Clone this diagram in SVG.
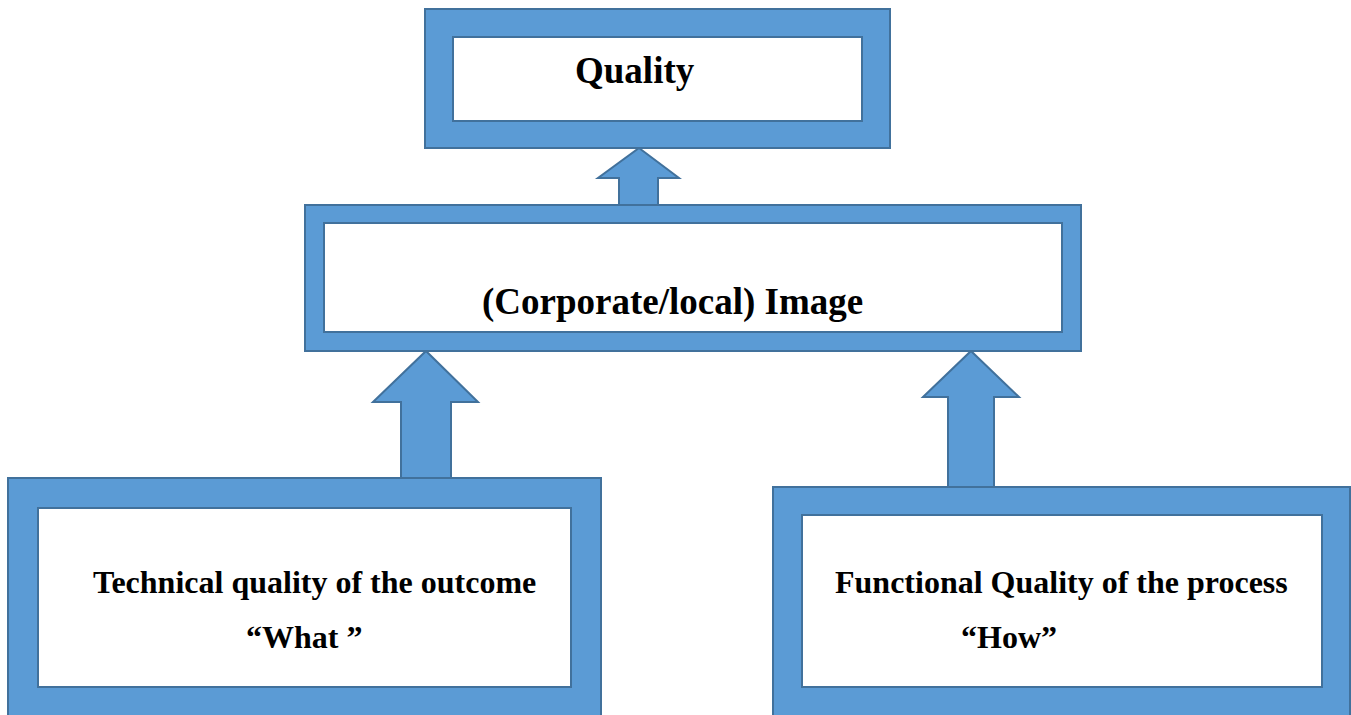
<svg xmlns="http://www.w3.org/2000/svg" width="1351" height="715" viewBox="0 0 1351 715">
  <style>
    .frame { fill: #5B9BD5; stroke: #41719C; stroke-width: 2; }
    .inner { fill: #FFFFFF; stroke: #41719C; stroke-width: 2; }
    .arrow { fill: #5B9BD5; stroke: #41719C; stroke-width: 2; stroke-linejoin: miter; }
    .lbl { font-family: "Liberation Serif", "Times New Roman", serif; font-weight: bold; fill: #000000; }
    .big { font-size: 37px; }
    .small { font-size: 32px; }
  </style>
  <rect width="1351" height="715" fill="#FFFFFF"/>

  <!-- block arrows between levels -->
  <g id="connectors">
    <polygon class="arrow" points="639,148 679,178 658,178 658,205 619,205 619,178 598,178"/>
    <polygon class="arrow" points="426,351 478,402 451,402 451,478 401,478 401,402 373,402"/>
    <polygon class="arrow" points="971,351 1019,397 994,397 994,487 948,487 948,397 923,397"/>
  </g>

  <g id="node-quality">
    <rect class="frame" x="425" y="9" width="465" height="139"/>
    <rect class="inner" x="453" y="37" width="409" height="84"/>
    <text class="lbl big" x="575" y="83">Quality</text>
  </g>

  <g id="node-image">
    <rect class="frame" x="305" y="205" width="776" height="146"/>
    <rect class="inner" x="324" y="223" width="738" height="109"/>
    <text class="lbl big" x="482" y="314">(Corporate/local) Image</text>
  </g>

  <g id="node-technical">
    <rect class="frame" x="8" y="478" width="593" height="245"/>
    <rect class="inner" x="38" y="508" width="533" height="179"/>
    <text class="lbl small" x="93" y="593">Technical quality of the outcome</text>
    <text class="lbl small" x="246" y="648">“What ”</text>
  </g>

  <g id="node-functional">
    <rect class="frame" x="773" y="487" width="577" height="236"/>
    <rect class="inner" x="802" y="515" width="520" height="172"/>
    <text class="lbl small" x="835" y="593">Functional Quality of the process</text>
    <text class="lbl small" x="961" y="648">“How”</text>
  </g>
</svg>
